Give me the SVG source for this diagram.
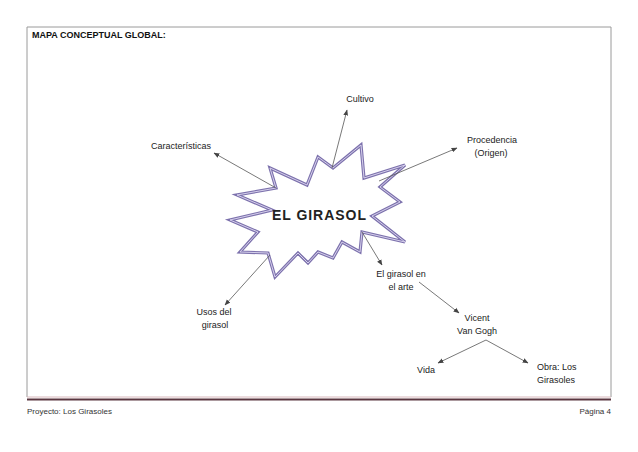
<svg xmlns="http://www.w3.org/2000/svg" width="638" height="452" viewBox="0 0 638 452">
<defs>
<style>
.lbl{font-family:"Liberation Sans",Arial,sans-serif;font-size:9px;fill:#222;text-anchor:middle}
.lft{text-anchor:start}
.ft{font-family:"Liberation Sans",Arial,sans-serif;font-size:8px;fill:#333}
.conn line{stroke:#555;stroke-width:0.8;marker-end:url(#ah)}
</style>
<marker id="ah" viewBox="0 0 10 10" refX="9" refY="5" markerWidth="6" markerHeight="6" markerUnits="userSpaceOnUse" orient="auto">
<path d="M0,1 L10,5 L0,9 Z" fill="#444"/>
</marker>
</defs>
<rect width="638" height="452" fill="#fff"/>
<g id="frame">
<path d="M27,397 V27 H611 V397" fill="none" stroke="#9a9a9a" stroke-width="1"/>
<line x1="27" y1="397" x2="611" y2="397" stroke="#d9b8bc" stroke-width="1"/>
<line x1="27" y1="399.5" x2="611" y2="399.5" stroke="#5a3640" stroke-width="2"/>
<text x="32" y="38" style="font-family:'Liberation Sans',Arial,sans-serif;font-size:9px;font-weight:bold;fill:#111">MAPA CONCEPTUAL GLOBAL:</text>
<text class="ft" x="27" y="414">Proyecto: Los Girasoles</text>
<text class="ft" x="611" y="414" text-anchor="end">Página 4</text>
</g>
<g id="girasol">
<polygon points="270,168 307,185 318,157 333,168 361,145 364,178 405,165 380,187 400,202 372,216 405,242 362,232 360,252 342,242 333,258 318,252 308,263 298,253 275,277 268,253 240,252 258,232 230,220 272,210 237,195 276,188" fill="#fff" stroke="#7d72ad" stroke-width="3.2" stroke-linejoin="miter"/>
<polygon points="270,168 307,185 318,157 333,168 361,145 364,178 405,165 380,187 400,202 372,216 405,242 362,232 360,252 342,242 333,258 318,252 308,263 298,253 275,277 268,253 240,252 258,232 230,220 272,210 237,195 276,188" fill="none" stroke="#d6d0ec" stroke-width="1"/>
<text x="319" y="220" textLength="94" lengthAdjust="spacing" style="font-family:'Liberation Sans',Arial,sans-serif;font-size:14px;font-weight:bold;fill:#222;text-anchor:middle">EL GIRASOL</text>
</g>
<g id="cultivo"><text class="lbl" x="360" y="102">Cultivo</text></g>
<g id="caracteristicas"><text class="lbl" x="181" y="149">Características</text></g>
<g id="procedencia"><text class="lbl" x="492" y="143">Procedencia</text><text class="lbl" x="491" y="156">(Origen)</text></g>
<g id="arte"><text class="lbl" x="401" y="277">El girasol en</text><text class="lbl" x="401" y="290">el arte</text></g>
<g id="usos"><text class="lbl" x="214" y="315">Usos del</text><text class="lbl" x="215" y="328">girasol</text></g>
<g id="vangogh"><text class="lbl" x="477" y="321">Vicent</text><text class="lbl" x="477" y="334">Van Gogh</text></g>
<g id="vida"><text class="lbl" x="426" y="373">Vida</text></g>
<g id="obra"><text class="lbl lft" x="537" y="370">Obra: Los</text><text class="lbl lft" x="537" y="383">Girasoles</text></g>
<g id="connectors" class="conn">
<line x1="276" y1="188" x2="214" y2="153"/>
<line x1="332" y1="168" x2="347" y2="110"/>
<line x1="379" y1="181" x2="457" y2="148"/>
<line x1="270" y1="255" x2="225" y2="305"/>
<line x1="362" y1="232" x2="382" y2="265"/>
<line x1="419" y1="282" x2="459" y2="313"/>
<line x1="486" y1="340" x2="438" y2="363"/>
<line x1="486" y1="340" x2="528" y2="363"/>
</g>
</svg>
